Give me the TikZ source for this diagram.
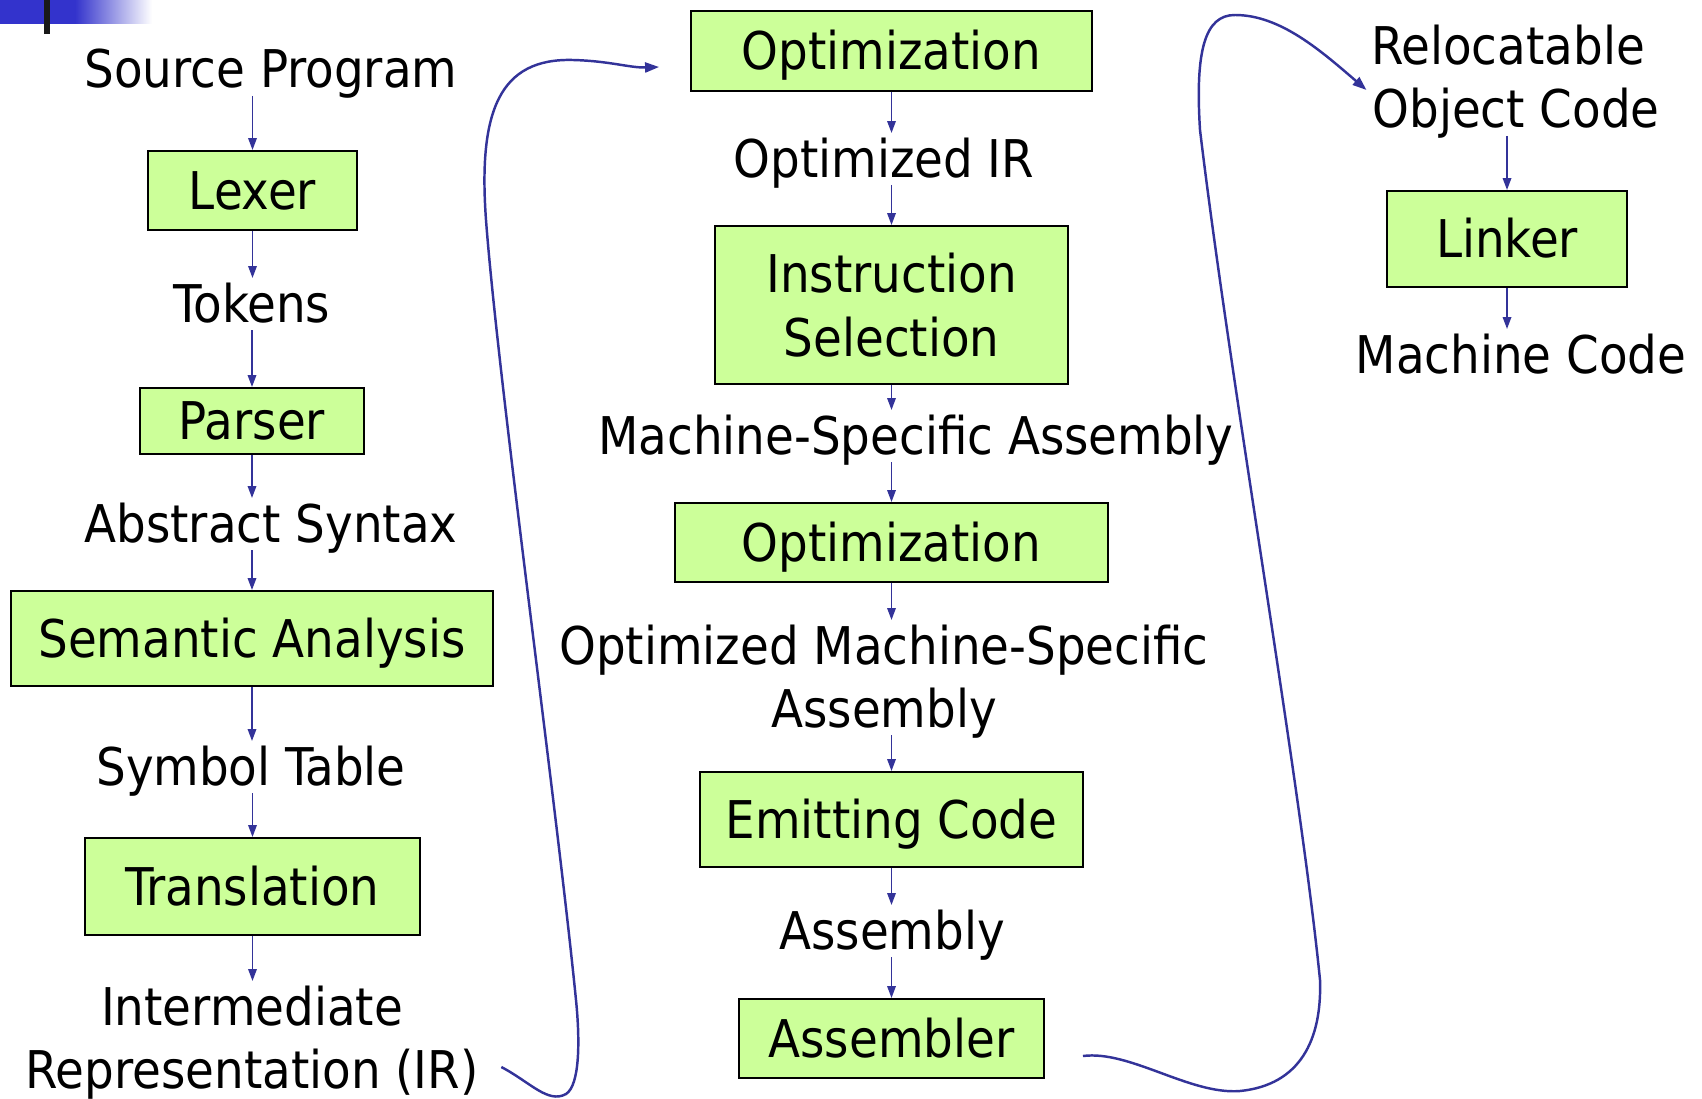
\documentclass[tikz,border=0pt]{standalone}
\usepackage{fontspec}
\setmainfont{DejaVu Sans Condensed}
\usetikzlibrary{arrows.meta}
\definecolor{boxgreen}{HTML}{CCFF99}
\definecolor{flowblue}{HTML}{333399}
\definecolor{barblue}{HTML}{3333CC}
\tikzset{
  every node/.style={font=\fontsize{29.6pt}{36.3pt}\selectfont},
  lbl/.style={anchor=base, inner sep=0pt, outer sep=0pt,
              text height=0.88cm, text depth=0.16cm},
  boxbase/.style={draw=black, line width=1.1pt, fill=boxgreen, inner sep=0pt},
  stage/.style={boxbase, text height=0.76cm, text depth=0pt},
  flow/.style={draw=flowblue, line width=1pt,
               -{Triangle[length=0.24cm,width=0.17cm]}},
  loop/.style={draw=flowblue, line width=1.4pt,
               -{Triangle[length=0.28cm,width=0.2cm]}}
}
\begin{document}
\begin{tikzpicture}[x=0.02cm, y=-0.02cm]
\useasboundingbox (0,0) rectangle (1702,1098);

% title bar ornament
\fill[barblue] (0,0) rectangle (76,24);
\shade[left color=barblue, right color=white] (75,0) rectangle (152,24);
\fill[black!90] (44,0) rectangle (50,34);

% front end
\node[lbl] (src) at (271,88) {Source Program};
\node[stage, minimum width=4.18cm, minimum height=1.58cm] (lexer) at (252.5,190.5) {Lexer};
\node[lbl] (tok) at (252,322) {Tokens};
\node[stage, minimum width=4.48cm, minimum height=1.32cm] (parser) at (252,421) {Parser};
\node[lbl] (ast) at (271,542) {Abstract Syntax};
\node[stage, minimum width=9.64cm, minimum height=1.90cm] (sem) at (252,638.5) {Semantic Analysis};
\node[lbl] (sym) at (251,785) {Symbol Table};
\node[stage, minimum width=6.70cm, minimum height=1.94cm] (trans) at (252.5,886.5) {Translation};
\node[lbl] (inter) at (252,1025) {Intermediate};
\node[lbl] (rep) at (252,1088) {Representation (IR)};

% back end
\node[stage, minimum width=8.02cm, minimum height=1.60cm] (opta) at (891.5,51) {Optimization};
\node[lbl] (optir) at (884,177) {Optimized IR};
\node[boxbase, align=center, minimum width=7.06cm, minimum height=3.16cm] (isel) at (891.5,305) {Instruction\\Selection};
\node[lbl] (msa) at (916,454) {Machine-Specific Assembly};
\node[stage, minimum width=8.66cm, minimum height=1.58cm] (optb) at (891.5,542.5) {Optimization};
\node[lbl] (omsa) at (884,664) {Optimized Machine-Specific};
\node[lbl] (omsb) at (884,727) {Assembly};
\node[stage, minimum width=7.66cm, minimum height=1.90cm] (emit) at (891.5,819.5) {Emitting Code};
\node[lbl] (asm) at (892,949) {Assembly};
\node[stage, minimum width=6.10cm, minimum height=1.58cm] (assembler) at (891.5,1038.5) {Assembler};

% linking
\node[lbl] (reloc) at (1508,65) {Relocatable};
\node[lbl] (objc) at (1516,128) {Object Code};
\node[stage, minimum width=4.80cm, minimum height=1.92cm] (linker) at (1507,239) {Linker};
\node[lbl] (mcode) at (1521,373) {Machine Code};

% front end arrows
\draw[flow] (lexer.north |- src.south) -- (lexer.north);
\draw[flow] (lexer.south) -- (lexer.south |- tok.north);
\draw[flow] (parser.north |- tok.south) -- (parser.north);
\draw[flow] (parser.south) -- (parser.south |- ast.north);
\draw[flow] (sem.north |- ast.south) -- (sem.north);
\draw[flow] (sem.south) -- (sem.south |- sym.north);
\draw[flow] (trans.north |- sym.south) -- (trans.north);
\draw[flow] (trans.south) -- (trans.south |- inter.north);

% back end arrows
\draw[flow] (opta.south) -- (opta.south |- optir.north);
\draw[flow] (isel.north |- optir.south) -- (isel.north);
\draw[flow] (isel.south) -- (isel.south |- msa.north);
\draw[flow] (optb.north |- msa.south) -- (optb.north);
\draw[flow] (optb.south) -- (optb.south |- omsa.north);
\draw[flow] (emit.north |- omsb.south) -- (emit.north);
\draw[flow] (emit.south) -- (emit.south |- asm.north);
\draw[flow] (assembler.north |- asm.south) -- (assembler.north);

% linking arrows
\draw[flow] (linker.north |- objc.south) -- (linker.north);
\draw[flow] (linker.south) -- (linker.south |- mcode.north);

% IR carried over to the optimizer
\draw[loop] ([shift={(23,-3)}]rep.east)
  .. controls (530,1082) and (548,1104) .. (566,1094)
  .. controls (580,1085) and (580,1040) .. (576,1000)
  .. controls (556,800) and (498,380) .. (486,220)
  .. controls (478,110) and (500,58) .. (573,60)
  .. controls (610,61) and (630,68) .. ([shift={(-31,16)}]opta.west);

% assembler output carried over to the linker
\draw[loop] ([shift={(38,17.5)}]assembler.east)
  .. controls (1130,1050) and (1190,1095) .. (1240,1091)
  .. controls (1300,1085) and (1322,1040) .. (1320,980)
  .. controls (1300,780) and (1230,380) .. (1200,130)
  .. controls (1195,50) and (1205,15) .. (1235,15)
  .. controls (1280,15) and (1320,50) .. ([shift={(-6,-20)}]objc.west);
\end{tikzpicture}
\end{document}
